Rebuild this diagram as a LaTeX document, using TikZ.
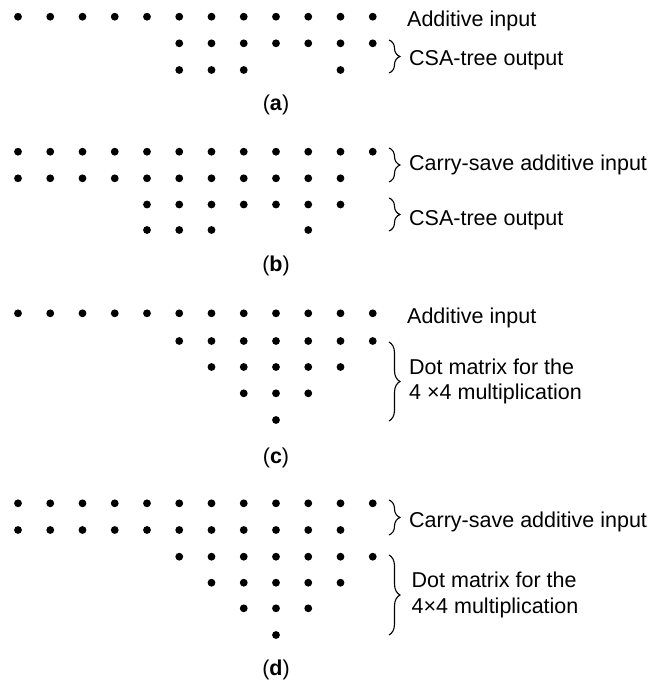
\documentclass[tikz,border=0pt]{standalone}
\usepackage{fontspec}
\setmainfont{Liberation Sans}
\usetikzlibrary{decorations.pathreplacing}
\begin{document}
\begin{tikzpicture}[x=1pt,y=-1pt,
    curly/.style={decorate,decoration={brace,amplitude=11pt},line width=1.1pt},
    lbl/.style={anchor=base west,inner sep=0pt},
    lbl2/.style={anchor=west,inner sep=0pt,align=left},
    tag/.style={anchor=base,inner sep=0pt}]
  \fontsize{21.5}{25.5}\selectfont
  \useasboundingbox (0,0) rectangle (655,681);
  \foreach \y/\cols in {16.7/{0,...,11},43.3/{5,...,11},70/{5,6,7,10},
      151.7/{0,...,11},178.3/{0,...,10},204.5/{4,...,10},230/{4,5,6,9},
      313.3/{0,...,11},341/{5,...,11},367/{6,...,10},393.3/{7,8,9},420/{8},
      503.3/{0,...,11},530/{0,...,10},556.7/{5,...,11},582.7/{6,...,10},608.3/{7,8,9},635/{8}} {
    \foreach \c in \cols
      \fill ({18+32.25*\c},\y) circle (3.9pt);
  }
  % (a)
  \coordinate (aT) at (389,40);
  \coordinate (aB) at (389,73);
  \draw[curly] (aT) -- (aB);
  \node[lbl] (aIn) at (407,26.7) {Additive input};
  \node[lbl] (aOut) at (409,65) {CSA-tree output};
  \node[tag] (aTag) at (276,110.5) {(\textbf{a})};
  % (b)
  \coordinate (bT1) at (389,148);
  \coordinate (bB1) at (389,182);
  \coordinate (bT2) at (389,198);
  \coordinate (bB2) at (389,231);
  \draw[curly] (bT1) -- (bB1);
  \draw[curly] (bT2) -- (bB2);
  \node[lbl] (bIn) at (409,170) {Carry-save additive input};
  \node[lbl] (bOut) at (409,225) {CSA-tree output};
  \node[tag] (bTag) at (276,271) {(\textbf{b})};
  % (c)
  \coordinate (cT) at (389,342);
  \coordinate (cB) at (389,421);
  \draw[curly] (cT) -- (cB);
  \node[lbl] (cIn) at (407,323.3) {Additive input};
  \node[lbl2] (cDot) at (409,381.5) {Dot matrix for the\\4 ×4 multiplication};
  \node[tag] (cTag) at (276,463) {(\textbf{c})};
  % (d)
  \coordinate (dT1) at (389,500);
  \coordinate (dB1) at (389,535);
  \coordinate (dT2) at (389,555);
  \coordinate (dB2) at (389,635);
  \draw[curly] (dT1) -- (dB1);
  \draw[curly] (dT2) -- (dB2);
  \node[lbl] (dIn) at (409,527) {Carry-save additive input};
  \node[lbl2] (dDot) at (411.5,595) {Dot matrix for the\\4×4 multiplication};
  \node[tag] (dTag) at (276,675) {(\textbf{d})};
\end{tikzpicture}
\end{document}
